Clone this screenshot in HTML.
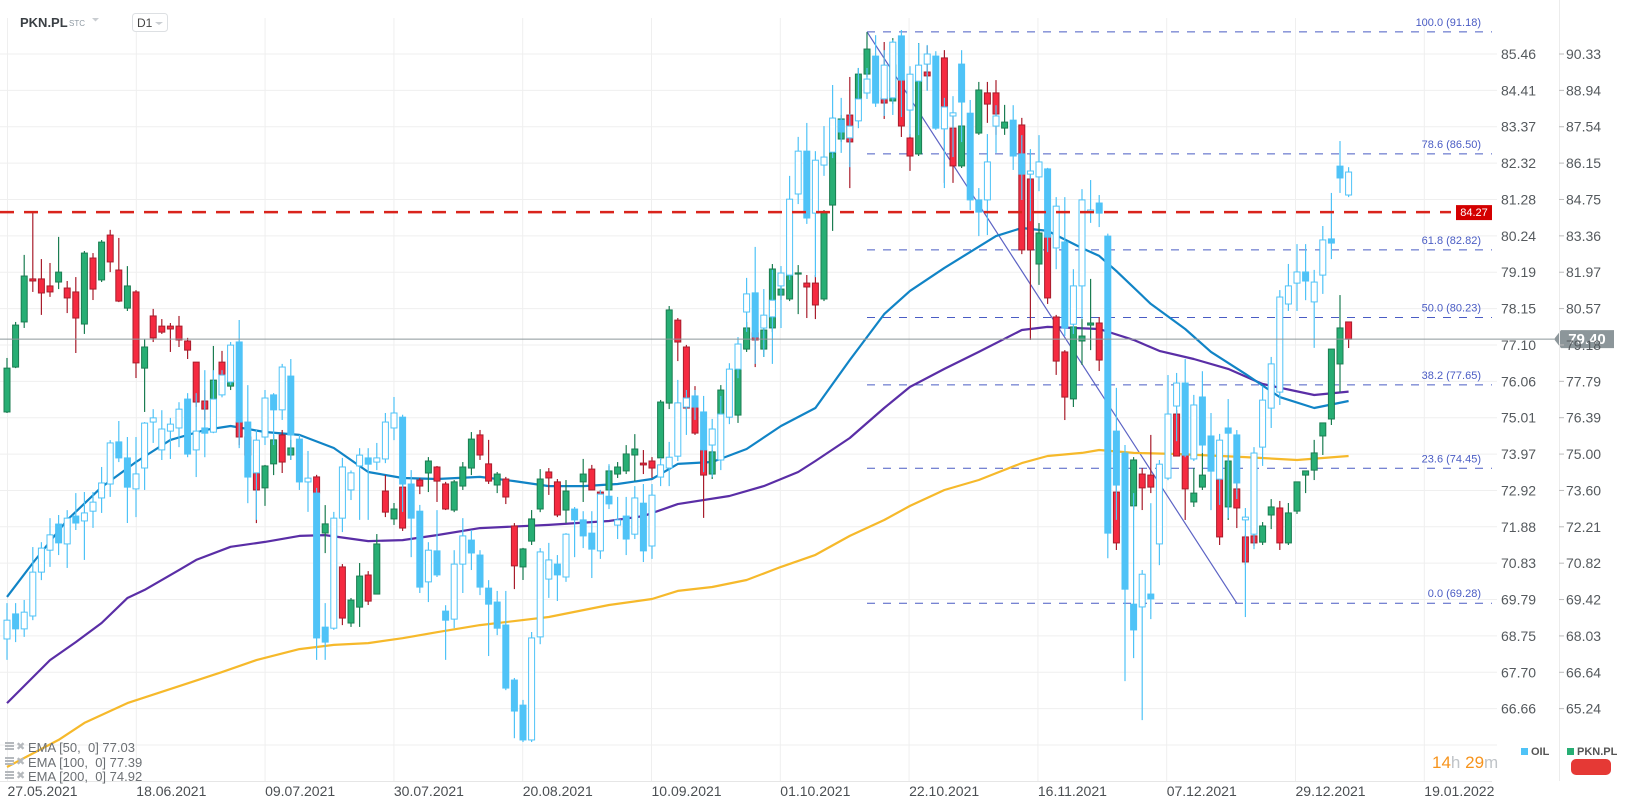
<!DOCTYPE html>
<html><head><meta charset="utf-8"><title>PKN.PL chart</title>
<style>
html,body{margin:0;padding:0;background:#fff;}
body{width:1626px;height:807px;overflow:hidden;font-family:"Liberation Sans",Arial,sans-serif;position:relative;}
svg{position:absolute;left:0;top:0;}
</style></head>
<body>
<svg id="chart" width="1626" height="807" viewBox="0 0 1626 807" xmlns="http://www.w3.org/2000/svg">
  <g id="grid"></g>
  <g id="fibs"></g>
  <g id="emas"></g>
  <g id="candles"></g>
  <g id="overlay"></g>
  <g id="axes"></g>
  <!-- header -->
  <text x="20" y="27" font-size="13" font-weight="bold" fill="#3a3f44">PKN.PL</text>
  <text x="69" y="26" font-size="8" fill="#8f9aa3">STC</text>
  <path d="M92 18 L99 18 L95.5 21.5 Z" fill="#c9cdd1"/>
  <rect x="132.5" y="13.5" width="35" height="18" rx="3" fill="#fff" stroke="#dde0e3"/>
  <text x="137" y="27" font-size="12" fill="#444">D1</text>
  <path d="M155 22 L163 22 L159 25 Z" fill="#c9cdd1"/>
  <!-- EMA legend -->
  <g font-size="13" fill="#6b6f73">
    <g>
      <rect x="5" y="742" width="9" height="2" fill="#b5b9bd"/><rect x="5" y="745" width="9" height="2" fill="#b5b9bd"/><rect x="5" y="748" width="9" height="2" fill="#b5b9bd"/>
      <text x="16" y="750" font-size="11" fill="#b5b9bd">✖</text>
      <text x="28" y="752">EMA [50,&#160;&#160;0] 77.03</text>
    </g>
    <g>
      <rect x="5" y="757" width="9" height="2" fill="#b5b9bd"/><rect x="5" y="760" width="9" height="2" fill="#b5b9bd"/><rect x="5" y="763" width="9" height="2" fill="#b5b9bd"/>
      <text x="16" y="765" font-size="11" fill="#b5b9bd">✖</text>
      <text x="28" y="767">EMA [100,&#160;&#160;0] 77.39</text>
    </g>
    <g>
      <rect x="5" y="771" width="9" height="2" fill="#b5b9bd"/><rect x="5" y="774" width="9" height="2" fill="#b5b9bd"/><rect x="5" y="777" width="9" height="2" fill="#b5b9bd"/>
      <text x="16" y="779" font-size="11" fill="#b5b9bd">✖</text>
      <text x="28" y="781">EMA [200,&#160;&#160;0] 74.92</text>
    </g>
  </g>
  <!-- countdown -->
  <text x="1432" y="768" font-size="17"><tspan fill="#f7941d">14</tspan><tspan fill="#c0c4c8">h </tspan><tspan fill="#f7941d">29</tspan><tspan fill="#c0c4c8">m</tspan></text>
  <!-- series legend -->
  <rect x="1521" y="748" width="7" height="7" fill="#4fc3f7"/>
  <text x="1531" y="755" font-size="11" font-weight="bold" fill="#555">OIL</text>
  <rect x="1567" y="748" width="7" height="7" fill="#27ae74"/>
  <text x="1577" y="755" font-size="11" font-weight="bold" fill="#555">PKN.PL</text>
  <rect x="1571" y="759" width="40" height="16" rx="5" fill="#e53935"/>
</svg>
<script>
// ---------- data ----------
const pknOHLC = [
[76.61,78.68,76.57,78.29],[78.33,80.06,78.29,79.94],[80.06,82.63,79.83,81.82],[81.71,84.24,81.21,81.63],[81.71,82.47,80.33,81.17],
[81.44,82.32,81.02,81.21],[81.59,83.32,81.32,81.97],[81.36,81.63,80.40,80.98],[81.21,81.78,78.87,80.21],[79.98,82.78,79.60,82.70],
[82.51,82.70,80.90,81.32],[81.67,83.20,81.59,83.12],[83.39,83.59,81.97,82.36],[82.05,83.28,80.82,80.86],[80.59,82.20,80.48,81.44],
[81.21,81.28,77.91,78.49],[78.29,79.41,76.61,79.10],[80.29,80.56,79.29,79.45],[79.90,80.17,79.60,79.67],[79.90,80.02,78.91,79.79],
[79.90,80.29,79.10,79.37],[79.33,79.45,78.64,78.98],[78.52,78.52,76.80,76.99],[77.03,77.45,76.30,76.72],[77.11,79.14,76.49,77.83],
[78.52,78.95,77.26,78.03],[77.60,78.03,77.45,77.80],[76.22,76.38,75.34,75.65],[75.65,75.92,74.77,74.96],[74.27,74.38,72.35,73.62],
[73.70,74.58,73.01,74.54],[74.62,75.73,74.19,75.54],[75.73,75.92,74.27,74.69],[74.96,75.54,74.77,75.23],null,
null,[74.12,74.20,73.40,73.50],[71.97,73.04,71.20,72.32],null,[70.67,70.78,68.44,68.71],
[68.52,69.48,68.37,69.40],[69.13,70.82,68.37,70.32],[70.36,70.51,69.21,69.36],[69.63,71.93,69.63,71.55],[73.58,74.19,72.58,72.77],
[72.51,73.12,72.28,72.89],[73.73,74.77,72.05,72.16],null,[74.00,74.08,73.46,73.77],[74.27,74.88,73.54,74.73],
[74.50,74.54,73.16,73.96],[73.85,73.93,72.85,72.89],[72.85,74.00,72.77,73.93],[73.77,74.69,73.62,74.50],[74.46,75.84,74.19,75.57],
[75.73,75.92,74.77,74.96],[74.62,75.54,73.85,73.96],[73.81,74.31,73.50,74.23],[74.04,74.12,73.08,73.35],[72.24,72.35,69.82,70.71],
[70.67,71.40,70.17,71.36],[71.66,72.85,71.51,72.51],[72.89,74.42,72.77,74.04],[74.31,74.46,73.43,74.08],[73.93,74.04,72.58,72.66],
[72.85,74.00,72.35,73.58],null,[73.93,74.81,73.16,74.23],[74.42,74.58,73.62,73.62],[73.54,73.62,73.39,73.46],
[73.62,74.54,73.24,74.35],[74.23,74.69,74.08,74.50],[74.35,75.34,74.23,75.00],[74.96,75.76,73.96,75.19],[74.65,75.15,74.23,74.58],
[74.73,74.88,74.08,74.46],[74.85,77.07,74.77,76.99],[76.95,80.67,76.72,80.52],[80.13,80.21,78.56,79.29],[79.10,79.18,76.68,76.76],
[76.80,77.60,75.73,75.80],[75.15,75.54,72.55,74.19],[74.23,75.15,74.04,75.08],[76.53,77.64,76.38,77.45],null,
[76.49,78.52,76.19,78.26],[79.02,80.06,78.91,79.83],[79.64,79.75,78.33,79.37],[79.02,79.94,78.72,79.75],[79.83,82.28,79.67,82.09],
[81.09,81.48,80.90,81.32],[80.94,82.05,80.86,81.90],[81.90,82.24,80.36,81.94],[81.55,81.86,80.21,81.40],[81.55,81.86,80.17,80.71],
[80.94,84.35,80.86,84.24],[84.54,87.92,83.55,86.54],[87.07,87.99,86.96,87.84],[87.99,89.45,85.19,86.96],[88.61,89.79,88.53,89.56],
[89.56,91.17,89.45,90.52],null,[88.64,90.79,87.84,88.45],[88.53,90.94,88.41,89.91],[89.33,89.49,87.15,87.57],
[87.11,87.26,85.85,86.42],[86.50,90.75,86.42,89.30],[89.64,90.64,88.95,89.49],null,[90.18,90.48,85.39,88.30],
[87.49,88.03,85.39,86.04],[86.04,89.95,85.96,87.57],null,[87.30,89.26,87.23,88.95],[88.84,89.26,87.69,88.41],
[88.84,89.33,87.23,88.03],[87.49,88.38,87.23,87.72],null,[87.61,87.88,82.66,82.82],[85.54,86.50,79.37,82.82],
[82.28,83.85,81.48,83.47],[83.39,83.55,80.75,80.98],[80.25,80.33,78.03,78.56],[78.91,78.98,76.30,77.18],[77.11,79.87,76.80,79.87],
[79.33,80.17,78.41,79.52],[79.94,81.71,78.98,80.02],[80.02,80.25,78.18,78.60],null,[73.54,74.00,71.32,71.59],
null,[73.01,74.88,72.85,74.77],[74.23,74.46,72.85,73.70],[74.19,75.73,73.50,73.73],null,
null,[76.53,76.68,74.92,74.92],[75.00,75.15,72.47,73.66],[73.16,74.46,72.97,73.50],[73.73,75.04,73.62,74.19],
null,[74.04,74.38,71.51,71.82],[72.97,74.96,72.47,74.73],[73.66,74.00,72.16,72.93],[71.82,71.90,70.74,70.86],
[71.86,71.93,71.47,71.59],[71.62,72.39,71.51,72.24],[72.66,73.27,72.12,72.97],[72.93,73.20,71.32,71.59],[71.59,73.12,71.51,72.74],
[72.81,73.93,72.70,73.93],[74.19,74.35,73.50,74.35],[74.38,75.54,74.00,75.04],[75.69,76.19,74.96,76.19],[76.34,79.02,76.11,79.02],
[78.45,81.09,77.37,79.83],[80.06,80.06,79.06,79.40]
];
const oilOHLC = [
[68.66,69.69,68.06,69.20],[69.38,69.69,68.57,68.95],[68.95,69.78,68.72,69.43],[69.32,71.30,69.20,70.58],[70.58,71.44,70.35,71.27],
[71.21,72.13,70.73,71.65],[71.96,72.22,71.07,71.42],[71.39,72.36,70.70,72.13],[72.19,72.85,71.79,71.99],[72.05,72.88,70.93,72.28],
[72.33,72.88,71.85,72.59],[72.71,73.60,72.28,73.14],[73.11,74.37,72.74,74.29],[74.32,74.92,73.74,73.86],[73.86,74.46,71.99,73.02],
[72.97,74.46,72.16,73.40],[73.57,74.89,72.94,74.86],[74.89,75.26,74.29,75.01],[74.09,75.23,73.80,74.69],[74.63,75.01,73.83,74.83],
[74.72,75.46,74.17,75.26],[75.55,75.72,73.88,73.97],[74.09,75.72,73.31,74.63],[74.72,76.38,73.88,74.57],[74.60,76.38,74.57,75.55],
[75.67,76.38,75.60,76.24],[76.04,77.19,75.95,77.10],[77.19,77.82,74.14,74.89],[74.89,75.95,72.56,73.31],[73.43,74.66,72.08,74.37],
[74.46,75.81,74.23,75.58],[75.67,75.72,74.23,75.24],[75.24,76.56,74.95,76.47],[76.21,76.70,73.80,74.52],[74.40,74.52,72.94,73.17],
[73.17,74.06,72.31,73.28],[72.85,73.00,68.06,68.69],[69.00,69.69,68.06,68.57],[68.97,72.31,68.92,72.13],[72.13,73.86,71.73,73.60],
[72.94,73.50,72.65,73.43],[73.63,74.14,72.08,73.94],[73.86,74.14,72.08,73.68],[73.74,74.29,73.51,73.86],[73.83,75.15,73.71,74.89],
[74.72,75.61,74.37,75.15],[75.03,75.10,72.31,73.11],[73.11,73.51,71.01,72.13],[72.33,72.51,69.98,70.15],[70.30,71.44,69.72,71.21],
[71.19,72.36,70.44,70.50],[69.46,69.63,68.06,69.20],[69.23,71.21,68.97,70.81],[70.81,72.13,69.98,71.62],[71.50,71.79,70.64,71.13],
[71.07,71.21,69.92,70.15],[70.12,70.35,68.17,69.66],[69.72,70.04,68.77,68.97],[69.06,70.04,67.19,67.25],[67.48,67.54,65.81,66.59],
[66.76,66.91,65.70,65.76],[65.76,68.86,65.70,68.69],[68.72,71.27,68.51,71.16],[70.38,71.42,69.84,70.93],[70.81,71.07,69.75,70.50],
[70.44,71.70,70.30,71.67],[72.39,72.45,71.01,72.08],[72.08,72.33,71.27,71.62],[71.70,72.33,70.41,71.24],[71.19,72.94,70.96,72.82],
[72.76,73.68,72.39,72.54],[71.93,72.74,71.53,72.08],[72.19,72.74,71.07,71.53],[71.67,73.05,71.53,72.71],[72.56,73.11,70.87,71.19],
[71.33,73.11,70.96,72.79],[73.31,73.86,73.05,73.66],[73.57,74.32,73.05,73.88],[73.91,76.10,73.77,75.44],[75.32,75.81,74.52,75.58],
[75.64,75.81,74.95,75.32],[75.18,75.64,73.45,74.09],[74.23,74.98,73.31,74.69],[73.80,75.64,73.51,75.12],[75.03,76.58,74.83,76.41],
[76.41,77.33,76.15,77.13],[78.05,79.03,77.48,78.57],[78.60,79.92,76.56,77.33],[77.59,78.71,76.76,77.96],[77.91,79.26,76.56,78.39],
[78.80,79.37,77.59,79.17],[79.11,81.96,78.97,81.29],[81.44,83.08,81.15,82.67],[82.67,83.48,80.58,80.75],[80.89,82.67,79.05,82.41],
[82.27,83.39,81.96,82.50],[82.64,84.57,82.47,83.62],[83.56,84.20,82.62,83.22],[83.05,83.74,82.21,83.39],[83.54,85.06,83.33,84.17],
[84.34,85.06,84.17,84.74],[85.40,86.00,83.94,84.05],[84.17,85.57,83.68,85.14],[84.20,85.86,83.71,85.80],[85.98,86.15,83.65,84.71],
[83.85,85.11,83.08,84.88],[84.68,85.77,83.13,85.14],[85.17,85.72,84.40,85.46],[85.40,85.54,83.28,83.33],[83.31,84.20,81.61,83.94],
[83.68,84.25,82.50,83.77],[85.17,85.57,82.93,84.08],[83.76,84.14,80.98,81.27],[81.27,81.61,80.23,80.92],[81.27,83.16,80.26,82.36],
[83.39,83.99,82.62,83.68],null,[83.56,83.99,82.13,82.53],[82.59,83.13,81.27,82.01],[82.01,82.73,80.66,82.10],
[81.93,83.13,81.52,82.36],[82.16,82.19,79.77,80.20],[79.89,81.35,79.28,81.09],[80.06,81.35,77.36,77.59],[77.70,79.28,77.42,78.80],
[78.80,81.58,77.85,81.27],[80.92,81.84,80.61,80.98],[81.18,81.41,80.49,80.89],[80.23,80.30,70.98,71.70],[74.63,75.87,72.08,73.08],
[74.00,74.23,67.45,70.09],[69.66,72.85,68.11,68.92],[69.58,70.64,66.33,70.52],[69.95,72.56,69.23,69.81],[71.39,73.80,70.78,73.68],
[73.28,76.24,73.22,75.12],[75.35,76.30,74.34,76.01],[76.01,76.70,73.88,73.94],[73.83,75.67,73.77,75.38],[75.61,76.35,74.00,74.23],
[74.49,75.15,72.36,73.48],[73.25,74.55,72.51,74.37],[74.72,75.55,72.13,74.57],[74.52,74.66,72.68,73.14],[72.08,72.42,69.29,72.16],
[71.67,74.17,71.24,74.00],[74.17,75.92,73.63,75.52],[75.29,76.76,74.72,76.56],[75.75,78.68,75.38,78.48],[78.28,79.43,78.08,78.80],
[78.88,80.00,78.08,79.20],[79.20,80.00,78.39,78.94],[78.34,79.26,77.02,78.91],[79.11,80.52,78.57,80.12],[80.15,81.47,79.57,80.03],
[82.24,82.96,81.47,81.90],[81.41,82.21,81.35,82.07]
];
const ema50Idx = [0,3,7,11,15,19,23,26,30,34,38,42,46,50,55,59,63,67,71,75,78,82,86,90,94,98,102,105,109,115,118,121,125,127,129,133,137,140,144,148,152,156];
const ema50Val = [69.52,70.82,72.47,73.73,74.69,75.54,75.92,76.07,75.84,75.73,75.23,74.31,74.08,74.04,74.12,73.96,73.77,73.77,73.85,74.04,74.62,74.69,75.19,76.07,76.76,78.60,80.36,81.25,82.13,83.35,83.66,83.55,82.89,82.59,82.01,80.75,79.79,78.91,78.07,77.18,76.76,77.03];
const ema100Idx = [0,5,8,11,14,16,20,22,26,30,34,37,42,46,50,55,63,70,74,78,84,88,92,94,98,102,105,109,113,118,121,127,131,134,138,142,146,152,156];
const ema100Val = [65.45,67.10,67.79,68.52,69.48,69.79,70.55,70.94,71.44,71.63,71.86,71.89,71.66,71.70,71.89,72.16,72.28,72.43,72.62,73.08,73.39,73.77,74.31,74.73,75.61,76.76,77.57,78.26,78.91,79.75,79.87,79.79,79.37,78.95,78.64,78.26,77.68,77.26,77.39];
const ema200Idx = [0,6,9,14,20,25,29,34,38,42,46,50,55,63,70,75,78,82,86,90,94,98,102,105,109,113,118,121,125,127,131,136,144,150,156];
const ema200Val = [63.00,64.04,64.69,65.45,66.10,66.64,67.10,67.52,67.68,67.75,67.94,68.17,68.44,68.75,69.21,69.44,69.75,69.90,70.17,70.67,71.13,71.86,72.47,73.01,73.62,74.00,74.65,74.92,75.04,75.15,75.04,75.00,74.88,74.77,74.92];
const oilTicks = ["85.46","84.41","83.37","82.32","81.28","80.24","79.19","78.15","77.10","76.06","75.01","73.97","72.92","71.88","70.83","69.79","68.75","67.70","66.66"];
const pknTicks = ["90.33","88.94","87.54","86.15","84.75","83.36","81.97","80.57","79.18","77.79","76.39","75.00","73.60","72.21","70.82","69.42","68.03","66.64","65.24"];
const dateLabels = ["27.05.2021","18.06.2021","09.07.2021","30.07.2021","20.08.2021","10.09.2021","01.10.2021","22.10.2021","16.11.2021","07.12.2021","29.12.2021","19.01.2022"];
const fibPct = ["100.0","78.6","61.8","50.0","38.2","23.6","0.0"];
const fibVal = [91.18,86.50,82.82,80.23,77.65,74.45,69.28];
const fibStartIdx = 100, fibEndIdx = 143;
const resistanceLevel = 84.27;
const lastPrice = 79.40;

// ---------- scales ----------
const NS = "http://www.w3.org/2000/svg";
const PLOT_RIGHT = 1497;
function xAt(i){ return 7 + 8.6 * i; }
function yP(v){ return 54 + (90.33 - v) * 26.09; }
function yO(v){ return 54 + (85.46 - v) * 34.82; }
function mk(tag, attrs, parent){
  const e = document.createElementNS(NS, tag);
  for (const k in attrs) e.setAttribute(k, attrs[k]);
  parent.appendChild(e);
  return e;
}
const grid = document.getElementById('grid');
const axes = document.getElementById('axes');
const candles = document.getElementById('candles');
const emas = document.getElementById('emas');
const fibs = document.getElementById('fibs');
const overlay = document.getElementById('overlay');

for (let k = 0; k <= 19; k++) {
  const y = 54 + k * 36.37;
  const l = mk('line', {x1:0, x2:PLOT_RIGHT, y1:y, y2:y, stroke:'#efefef', 'stroke-width':1}, grid);
  
  
}
dateLabels.forEach((d, k) => {
  const x = 7.5 + 128.8 * k;
  const l = mk('line', {x1:x, x2:x, y1:18, y2:781, stroke:'#efefef', 'stroke-width':1}, grid);
  
  
  const t = mk('text', {x:x, y:796, 'font-size':14, fill:'#4a4e52'}, axes);
  t.textContent = d;
  
  
});
const bl = mk('line', {x1:0, x2:1492, y1:781.5, y2:781.5, stroke:'#e6e6e6'}, axes);


const rl = mk('line', {x1:1559.5, x2:1559.5, y1:0, y2:781, stroke:'#ececec'}, axes);


oilTicks.forEach((s, k) => {
  const y = 54 + k * 36.37;
  const t = mk('text', {x:1501, y:y + 5, 'font-size':14, fill:'#555a5e'}, axes);
  t.textContent = s;
  
  
});
pknTicks.forEach((s, k) => {
  const y = 54 + k * 36.37;
  const tk = mk('line', {x1:1559, x2:1564, y1:y, y2:y, stroke:'#bbb'}, axes);
  
  
  const t = mk('text', {x:1566, y:y + 5, 'font-size':14, fill:'#555a5e'}, axes);
  t.textContent = s;
  
  
});

fibVal.forEach((v, k) => {
  const y = yP(v);
  const l = mk('line', {x1:xAt(fibStartIdx), x2:1492, y1:y, y2:y, stroke:'#4a5cc4', 'stroke-width':1, 'stroke-dasharray':'8,8'}, fibs);
  
  
  const t = mk('text', {x:1481, y:y - 6, 'font-size':11, fill:'#4a5cc4', 'text-anchor':'end'}, fibs);
  t.textContent = fibPct[k] + ' (' + v.toFixed(2) + ')';
  
  
});
const diag = mk('line', {x1:xAt(fibStartIdx), y1:yP(fibVal[0]), x2:xAt(fibEndIdx), y2:yP(fibVal[fibVal.length-1]), stroke:'#5c63c4', 'stroke-width':1.2}, fibs);



function emaLine(idx, val, color, name){
  const pts = idx.map((i, k) => xAt(i).toFixed(1) + ',' + yP(val[k]).toFixed(1)).join(' ');
  const p = mk('polyline', {points:pts, fill:'none', stroke:color, 'stroke-width':2.2, 'stroke-linejoin':'round'}, emas);
  
  
}
emaLine(ema200Idx, ema200Val, '#f6b92b', 'ema-200-line');
emaLine(ema100Idx, ema100Val, '#5a2ea6', 'ema-100-line');
emaLine(ema50Idx, ema50Val, '#1184c6', 'ema-50-line');

function drawCandle(d, i, scale, kind){
  if (!d) return;
  const [o, h, l, c] = d;
  const x = xAt(i);
  const up = c >= o;
  let fill, stroke, wick;
  if (kind === 'pkn') {
    fill = up ? '#27ae74' : '#f52a40';
    stroke = up ? '#1b7d52' : '#a81d2c';
    wick = stroke;
  } else {
    fill = up ? '#ffffff' : '#4fc3f7';
    stroke = '#4fc3f7';
    wick = '#4fc3f7';
  }
  const g = mk('g', {}, candles);
  
  
  const w = mk('line', {x1:x, x2:x, y1:scale(h), y2:scale(l), stroke:wick, 'stroke-width':1.2}, g);
  
  
  const yt = scale(Math.max(o, c)), yb = scale(Math.min(o, c));
  const b = mk('rect', {x:x - 3, y:yt, width:6, height:Math.max(1.2, yb - yt), fill:fill, stroke:stroke, 'stroke-width':1}, g);
  
  
}
pknOHLC.forEach((d, i) => drawCandle(d, i, yP, 'pkn'));
oilOHLC.forEach((d, i) => drawCandle(d, i, yO, 'oil'));

const ry = yP(resistanceLevel);
const rline = mk('line', {x1:0, x2:1451, y1:ry, y2:ry, stroke:'#d9241c', 'stroke-width':2.5, 'stroke-dasharray':'14,10'}, overlay);


const rbox = mk('rect', {x:1456, y:ry - 7, width:36, height:15, fill:'#d40000'}, overlay);


const rtx = mk('text', {x:1474, y:ry + 4, 'font-size':11, fill:'#fff', 'text-anchor':'middle'}, overlay);
rtx.textContent = resistanceLevel.toFixed(2);



const py = yP(lastPrice);
const pline = mk('line', {x1:0, x2:1554, y1:py, y2:py, stroke:'#8c969a', 'stroke-width':1}, overlay);


const ptag = mk('path', {d:'M1554 ' + py + ' L1561 ' + (py - 9) + ' L1614 ' + (py - 9) + ' L1614 ' + (py + 9) + ' L1561 ' + (py + 9) + ' Z', fill:'#8c969a'}, overlay);


const ptx = mk('text', {x:1587, y:py + 5, 'font-size':15, 'font-weight':'bold', fill:'#fff', 'text-anchor':'middle'}, overlay);
ptx.textContent = lastPrice.toFixed(2);


</script>
</body></html>
